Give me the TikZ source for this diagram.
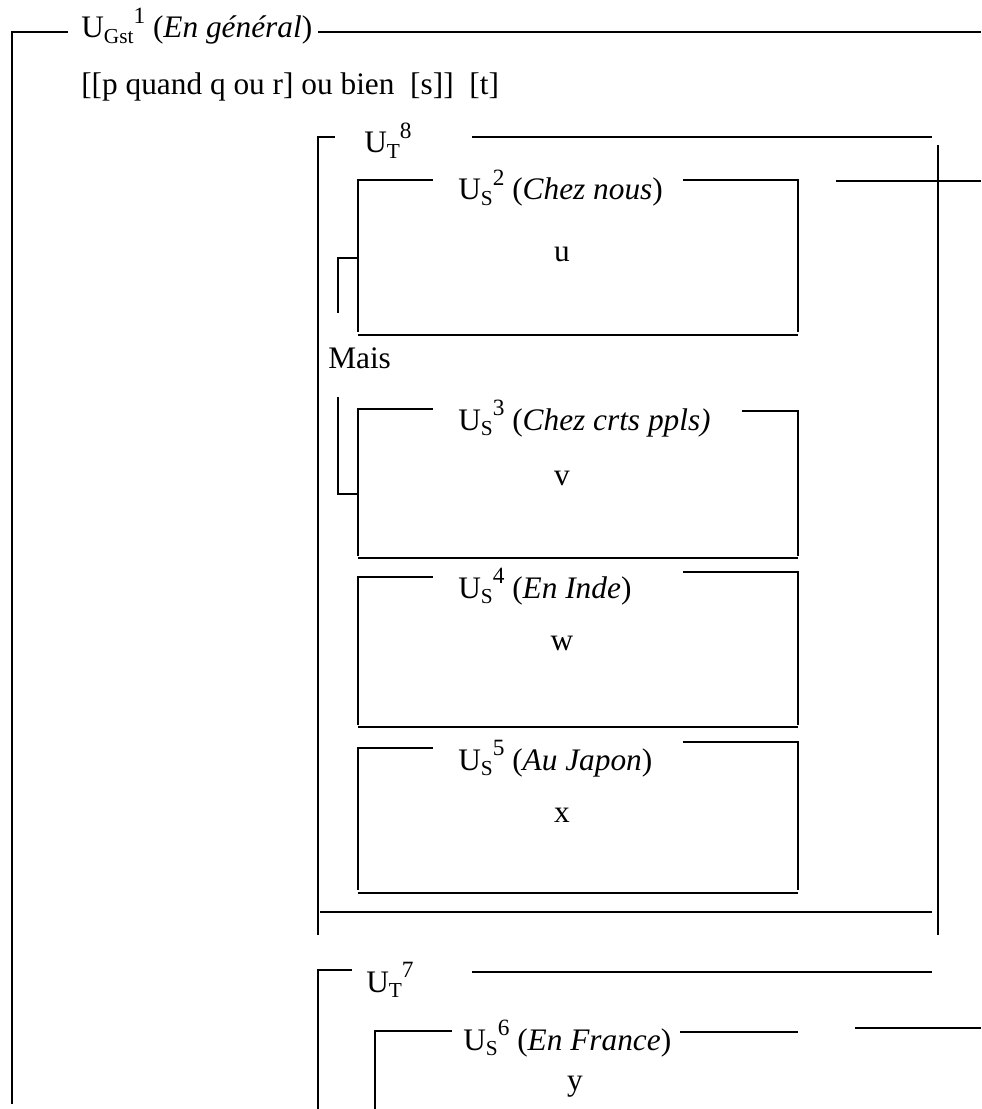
\documentclass[tikz,border=0pt]{standalone}
\usepackage{fontspec}
\setmainfont{Liberation Serif}
\newcommand{\unitlbl}[2]{U\raisebox{-0.35ex}{\fontsize{16}{18}\selectfont #1}\raisebox{1.0ex}{\fontsize{17.5}{20}\selectfont #2}}
\begin{document}
\begin{tikzpicture}[x=0.75pt,y=0.75pt,yscale=-1,xscale=1,
    frm/.style={line width=1.7pt},
    lbl/.style={anchor=base west,inner sep=0.75pt,font=\fontsize{23.5}{28}\selectfont},
    mid/.style={anchor=base,inner sep=0.75pt,font=\fontsize{23.5}{28}\selectfont}]
    \useasboundingbox (0,0) rectangle (981,1109);
    % outer frame U_Gst^1
    \draw [frm] (12,1104) -- (12,32) -- (68,32) ;
    \draw [frm] (318,32) -- (981,32) ;
    % Text Node
    \draw (80,38) node (gst) [lbl] {\unitlbl{Gst}{1} (\textit{En général})};
    % Text Node
    \draw (80,95) node (form) [lbl] {[[p quand q ou r] ou bien \ [s]] \ [t]};
    % frame U_T^8
    \draw [frm] (318,935) -- (318,137) -- (335,137) ;
    \draw [frm] (472,137) -- (932,137) ;
    \draw [frm] (938,145) -- (938,935) ;
    \draw [frm] (320,912) -- (932,912) ;
    \draw [frm] (836,181) -- (981,181) ;
    % Text Node
    \draw (363,153) node (ut8) [lbl] {\unitlbl{T}{8}};
    % frame U_S^2
    \draw [frm] (358,332) -- (358,180) -- (433,180) ;
    \draw [frm] (683,180) -- (798,180) -- (798,332) ;
    \draw [frm] (358,335) -- (798,335) ;
    \draw [frm] (338,313) -- (338,258) -- (358,258) ;
    % Text Node
    \draw (457,200) node (us2) [lbl] {\unitlbl{S}{2} (\textit{Chez nous})};
    % Text Node
    \draw (562,262) node (u) [mid] {u};
    % Text Node
    \draw (327,368) node (mais) [lbl] {Mais};
    % frame U_S^3
    \draw [frm] (338,397) -- (338,494) -- (358,494) ;
    \draw [frm] (358,556) -- (358,409) -- (433,409) ;
    \draw [frm] (742,411) -- (798,411) -- (798,556) ;
    \draw [frm] (358,558) -- (798,558) ;
    % Text Node
    \draw (457,430) node (us3) [lbl] {\unitlbl{S}{3} (\textit{Chez crts ppls)}};
    % Text Node
    \draw (562,485) node (v) [mid] {v};
    % frame U_S^4
    \draw [frm] (358,725) -- (358,577) -- (433,577) ;
    \draw [frm] (683,572) -- (798,572) -- (798,725) ;
    \draw [frm] (358,727) -- (798,727) ;
    % Text Node
    \draw (457,598) node (us4) [lbl] {\unitlbl{S}{4} (\textit{En Inde})};
    % Text Node
    \draw (562,650) node (w) [mid] {w};
    % frame U_S^5
    \draw [frm] (358,890) -- (358,748) -- (433,748) ;
    \draw [frm] (683,742) -- (798,742) -- (798,890) ;
    \draw [frm] (358,893) -- (798,893) ;
    % Text Node
    \draw (457,770) node (us5) [lbl] {\unitlbl{S}{5} (\textit{Au Japon})};
    % Text Node
    \draw (562,822) node (x) [mid] {x};
    % frame U_T^7
    \draw [frm] (318,1109) -- (318,970) -- (352,970) ;
    \draw [frm] (472,972) -- (932,972) ;
    % Text Node
    \draw (365,992) node (ut7) [lbl] {\unitlbl{T}{7}};
    % frame U_S^6
    \draw [frm] (375,1109) -- (375,1031) -- (452,1031) ;
    \draw [frm] (680,1032) -- (798,1032) ;
    \draw [frm] (855,1028) -- (981,1028) ;
    % Text Node
    \draw (462,1050) node (us6) [lbl] {\unitlbl{S}{6} (\textit{En France})};
    % Text Node
    \draw (575,1090) node (y) [mid] {y};
\end{tikzpicture}
\end{document}
